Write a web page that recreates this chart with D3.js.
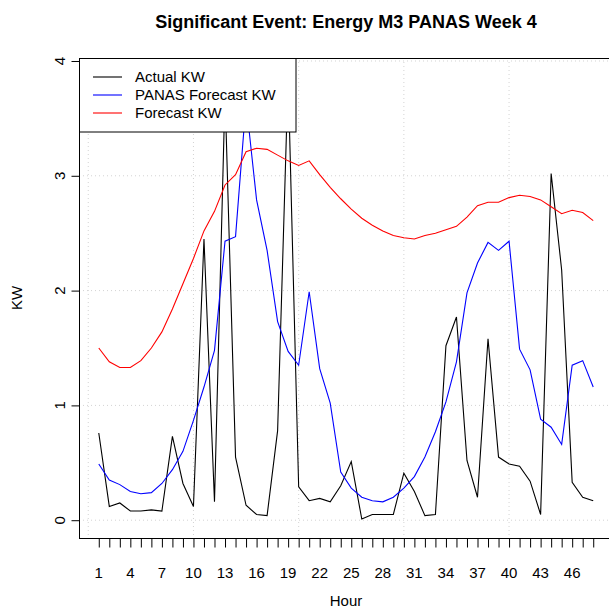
<!DOCTYPE html>
<html><head><meta charset="utf-8">
<script src="https://cdn.jsdelivr.net/npm/d3@7"></script>
<style>body{margin:0;background:#fff}svg{display:block}text{font-family:"Liberation Sans",Arial,sans-serif}</style>
</head><body>
<script>
const hours = [1,2,3,4,5,6,7,8,9,10,11,12,13,14,15,16,17,18,19,20,21,22,23,24,25,26,27,28,29,30,31,32,33,34,35,36,37,38,39,40,41,42,43,44,45,46,47,48];
const actualKW = [0.76,0.12,0.15,0.08,0.08,0.09,0.08,0.73,0.32,0.12,
  2.45,0.16,3.72,0.55,0.13,0.05,0.04,0.78,3.87,0.29,
  0.17,0.19,0.16,0.30,0.51,0.01,0.05,0.05,0.05,0.41,
  0.25,0.04,0.05,1.52,1.77,0.52,0.20,1.58,0.55,0.49,
  0.47,0.34,0.05,3.02,2.18,0.33,0.20,0.17];
const panasKW = [0.49,0.35,0.31,0.25,0.23,0.24,0.32,0.44,0.60,0.87,
  1.16,1.48,2.43,2.47,3.64,2.79,2.35,1.73,1.47,1.35,
  1.99,1.32,1.02,0.42,0.28,0.20,0.17,0.16,0.20,0.28,
  0.38,0.55,0.77,1.03,1.38,1.98,2.24,2.42,2.35,2.43,
  1.49,1.31,0.88,0.81,0.66,1.35,1.39,1.16];
const forecastKW = [1.50,1.38,1.33,1.33,1.39,1.50,1.64,1.84,2.06,2.28,
  2.52,2.69,2.92,3.01,3.21,3.24,3.23,3.18,3.13,3.09,
  3.13,3.01,2.90,2.80,2.71,2.63,2.57,2.52,2.48,2.46,
  2.45,2.48,2.50,2.53,2.56,2.64,2.74,2.77,2.77,2.81,
  2.83,2.82,2.79,2.73,2.67,2.70,2.68,2.61];
const xTickLabels = [1,4,7,10,13,16,19,22,25,28,31,34,37,40,43,46];
const yTicks = [0,1,2,3,4];
const xGrid = [0,10,20,30,40];
const seriesNames = ["Actual KW","PANAS Forecast KW","Forecast KW"];
const seriesColors = ["#000000","#0000ff","#ff0000"];
const seriesData = [actualKW, panasKW, forecastKW];

const W = 609, H = 609;
const box = {left:79, right:613, top:58, bottom:538};
const x = d3.scaleLinear().domain([-0.88, 49.88]).range([box.left, box.right]);
const y = d3.scaleLinear().domain([-0.155, 4.026]).range([box.bottom, box.top]);

const svg = d3.select("body").append("svg").attr("width", W).attr("height", H);

// grid
const g = svg.append("g");
g.selectAll("line.gy").data(yTicks).enter().append("line")
  .attr("x1", box.left).attr("x2", box.right)
  .attr("y1", d => y(d)).attr("y2", d => y(d))
  .attr("stroke", "#d3d3d3").attr("stroke-dasharray", "1,3").attr("stroke-width", 1);
g.selectAll("line.gx").data(xGrid).enter().append("line")
  .attr("y1", box.top).attr("y2", box.bottom)
  .attr("x1", d => x(d)).attr("x2", d => x(d))
  .attr("stroke", "#d3d3d3").attr("stroke-dasharray", "1,3").attr("stroke-width", 1);

// lines
const line = d3.line().x((d, i) => x(hours[i])).y(d => y(d));
seriesData.forEach((s, k) => {
  svg.append("path").datum(s).attr("d", line)
    .attr("fill", "none").attr("stroke", seriesColors[k]).attr("stroke-width", 1.1);
});

// legend
const lg = svg.append("g");
lg.append("rect").attr("x", 79.5).attr("y", 58.5).attr("width", 216.5).attr("height", 73.5)
  .attr("fill", "#fff").attr("stroke", "#000").attr("stroke-width", 1);
seriesNames.forEach((n, k) => {
  const yy = 77 + k * 18;
  lg.append("line").attr("x1", 93).attr("x2", 122).attr("y1", yy).attr("y2", yy)
    .attr("stroke", seriesColors[k]).attr("stroke-width", 1.1);
  lg.append("text").attr("x", 135).attr("y", yy + 5.3).attr("font-size", 15).attr("fill", "#000").text(n);
});

// plot box
svg.append("rect").attr("x", box.left + 0.5).attr("y", box.top + 0.5)
  .attr("width", box.right - box.left).attr("height", box.bottom - box.top)
  .attr("fill", "none").attr("stroke", "#000").attr("stroke-width", 1);

// x axis
const xa = svg.append("g").attr("transform", `translate(0,${box.bottom + 0.5})`)
  .call(d3.axisBottom(x).tickValues(hours).tickSize(9).tickFormat(""));
xa.select(".domain").remove();
xa.selectAll("line").attr("stroke", "#000");
svg.append("line").attr("x1", x(1)).attr("x2", x(48)).attr("y1", box.bottom + 0.5).attr("y2", box.bottom + 0.5).attr("stroke", "#000");
svg.selectAll("text.xl").data(xTickLabels).enter().append("text")
  .attr("x", d => x(d)).attr("y", 578).attr("text-anchor", "middle").attr("font-size", 15).text(d => d);

// y axis
const ya = svg.append("g").attr("transform", `translate(${box.left + 0.5},0)`)
  .call(d3.axisLeft(y).tickValues(yTicks).tickSize(8).tickFormat(""));
ya.select(".domain").remove();
ya.selectAll("line").attr("stroke", "#000");
svg.selectAll("text.yl").data(yTicks).enter().append("text")
  .attr("transform", d => `translate(65,${y(d)}) rotate(-90)`)
  .attr("text-anchor", "middle").attr("font-size", 15).text(d => d);

// titles
svg.append("text").attr("x", (box.left + box.right) / 2).attr("y", 28).attr("text-anchor", "middle")
  .attr("font-size", 18).attr("font-weight", "bold").text("Significant Event: Energy M3 PANAS Week 4");
svg.append("text").attr("x", (box.left + box.right) / 2).attr("y", 606).attr("text-anchor", "middle")
  .attr("font-size", 15).text("Hour");
svg.append("text").attr("transform", `translate(22,${(box.top + box.bottom) / 2}) rotate(-90)`)
  .attr("text-anchor", "middle").attr("font-size", 15).text("KW");
</script>
</body></html>
